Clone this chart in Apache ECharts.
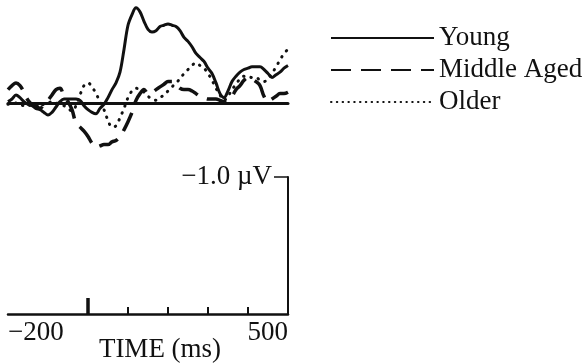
<!DOCTYPE html>
<html>
<head>
<meta charset="utf-8">
<script src="https://cdn.jsdelivr.net/npm/echarts@6/dist/echarts.min.js"></script>
<style>
html,body{margin:0;padding:0;background:#fff;}
#c{width:588px;height:364px;}
</style>
</head>
<body>
<div id="c"></div>
<script>
// time axis (ms)
var times = [];
for (var t = -200; t <= 500; t += 10) times.push(t);

// amplitudes in µV (negative plotted up)
var young = [-0.01,-0.03,-0.06,-0.04,-0.01,0.01,0.02,0.04,0.05,0.07,
  0.09,0.07,0.03,-0.01,-0.03,-0.03,-0.03,-0.03,-0.02,0.02,
  0.05,0.07,0.08,0.04,0.01,-0.04,-0.10,-0.15,-0.23,-0.40,
  -0.58,-0.66,-0.71,-0.68,-0.61,-0.55,-0.53,-0.54,-0.57,-0.58,
  -0.59,-0.58,-0.57,-0.54,-0.49,-0.46,-0.42,-0.37,-0.34,-0.31,
  -0.26,-0.22,-0.15,-0.07,-0.04,-0.09,-0.16,-0.20,-0.23,-0.25,
  -0.26,-0.27,-0.27,-0.27,-0.25,-0.22,-0.19,-0.21,-0.23,-0.26,-0.28];
var middleAged = [-0.10,-0.13,-0.15,-0.13,-0.08,-0.02,0.01,0.02,0.04,0.01,
  -0.02,-0.06,-0.10,-0.11,-0.05,-0.01,0.05,0.15,0.18,0.21,
  0.25,0.30,0.33,0.32,0.31,0.31,0.29,0.28,0.25,0.20,
  0.14,0.07,-0.02,-0.07,-0.10,-0.07,-0.08,-0.10,-0.12,-0.14,
  -0.16,-0.16,-0.14,-0.11,-0.10,-0.10,-0.09,-0.07,-0.05,-0.04,
  -0.03,-0.03,-0.03,-0.02,-0.01,-0.02,-0.05,-0.10,-0.13,-0.17,
  -0.19,-0.18,-0.16,-0.13,-0.05,-0.01,-0.03,-0.05,-0.07,-0.07,-0.08];
var older = [0.01,0.01,0,0.01,0.02,0.01,0.03,0.04,0.02,0.01,
  0,-0.01,0,0.01,0.02,0.04,0.06,0.02,-0.06,-0.13,
  -0.15,-0.12,-0.07,-0.01,0.05,0.13,0.18,0.17,0.11,0.04,
  -0.04,-0.09,-0.11,-0.10,-0.08,-0.05,-0.03,-0.02,-0.04,-0.06,
  -0.09,-0.12,-0.15,-0.18,-0.22,-0.25,-0.28,-0.30,-0.28,-0.26,
  -0.22,-0.17,-0.11,-0.06,-0.02,-0.05,-0.10,-0.14,-0.18,-0.20,
  -0.20,-0.19,-0.19,-0.17,-0.16,-0.18,-0.22,-0.27,-0.32,-0.37,-0.40];

var seriesNames = ['Young', 'Middle Aged', 'Older'];
var xTickValues = [100, 200, 300, 400];
var xLabelValues = [-200, 500];
var scaleValue = [-1.0];
var xName = 'TIME (ms)';

function pairs(vals) { return vals.map(function (v, i) { return [times[i], v]; }); }

var FONT = '"Liberation Serif", "Times New Roman", serif';
var INK = '#111';
var FS = 27;

var chart = echarts.init(document.getElementById('c'), null, {renderer: 'canvas'});
chart.setOption({
  animation: false,
  backgroundColor: '#fff',
  legend: {
    orient: 'vertical',
    left: 325, top: 17,
    itemWidth: 103, itemHeight: 14, itemGap: 0,
    itemStyle: {color: 'transparent', borderWidth: 0, opacity: 0},
    textStyle: {fontFamily: FONT, fontSize: FS, color: INK, lineHeight: 32},
    data: [
      {name: seriesNames[0]},
      {name: seriesNames[1]},
      {name: seriesNames[2], lineStyle: {type: [0.5, 5.3], width: 2, cap: 'round', color: INK}}
    ]
  },
  grid: [
    {left: 8, width: 280, top: 2.5, height: 147.4, outerBoundsMode: 'none', containLabel: false},
    {left: 8, width: 280, top: 177, height: 137, outerBoundsMode: 'none', containLabel: false}
  ],
  xAxis: [
    {gridIndex: 0, type: 'value', min: -200, max: 500,
      axisLine: {show: true, onZero: true, lineStyle: {color: INK, width: 3}},
      axisTick: {show: false}, axisLabel: {show: false}, splitLine: {show: false}},
    {gridIndex: 1, type: 'value', min: -200, max: 500, position: 'bottom',
      axisLine: {show: true, onZero: false, lineStyle: {color: INK, width: 2.5}},
      axisTick: {show: true, inside: true, length: 7, customValues: xTickValues, lineStyle: {color: INK, width: 2}},
      axisLabel: {show: true, customValues: xLabelValues, margin: 5, alignMinLabel: 'left', alignMaxLabel: 'right',
        fontFamily: FONT, fontSize: FS, color: INK,
        formatter: function (v) { return v < 0 ? '\u2212' + Math.abs(v) : String(v); }},
      splitLine: {show: false},
      name: xName, nameLocation: 'middle', nameGap: 22, nameMoveOverlap: false,
      nameTextStyle: {fontFamily: FONT, fontSize: FS, color: INK, padding: [0, 0, 0, 24]}},
    {gridIndex: 1, type: 'value', min: -200, max: 500, position: 'bottom',
      axisLine: {show: false, onZero: false},
      axisTick: {show: true, inside: true, length: 16, customValues: [0], lineStyle: {color: INK, width: 3.5}},
      axisLabel: {show: false}, splitLine: {show: false}}
  ],
  yAxis: [
    {gridIndex: 0, type: 'value', inverse: true, min: -0.75, max: 0.35,
      show: false, splitLine: {show: false}},
    {gridIndex: 1, type: 'value', inverse: true, min: -1, max: 0, position: 'right',
      axisLine: {show: true, onZero: false, lineStyle: {color: INK, width: 2}},
      axisTick: {show: true, inside: true, length: 14, customValues: scaleValue, lineStyle: {color: INK, width: 1.5}},
      axisLabel: {show: true, inside: true, margin: 16, customValues: scaleValue,
        fontFamily: FONT, fontSize: FS, color: INK,
        formatter: function (v) { return '\u2212' + Math.abs(v).toFixed(1) + ' \u00b5V'; }},
      splitLine: {show: false}}
  ],
  series: [
    {name: seriesNames[0], type: 'line', xAxisIndex: 0, yAxisIndex: 0, data: pairs(young),
      symbol: 'none', smooth: 0.35, lineStyle: {color: INK, width: 3}, itemStyle: {color: INK}},
    {name: seriesNames[1], type: 'line', xAxisIndex: 0, yAxisIndex: 0, data: pairs(middleAged),
      symbol: 'none', smooth: 0.35, lineStyle: {color: INK, width: 3.5, type: [20, 10]}, itemStyle: {color: INK}},
    {name: seriesNames[2], type: 'line', xAxisIndex: 0, yAxisIndex: 0, data: pairs(older),
      symbol: 'none', smooth: 0.35, lineStyle: {color: INK, width: 3, type: [0.5, 7], cap: 'round'}, itemStyle: {color: INK}}
  ]
});
</script>
</body>
</html>
